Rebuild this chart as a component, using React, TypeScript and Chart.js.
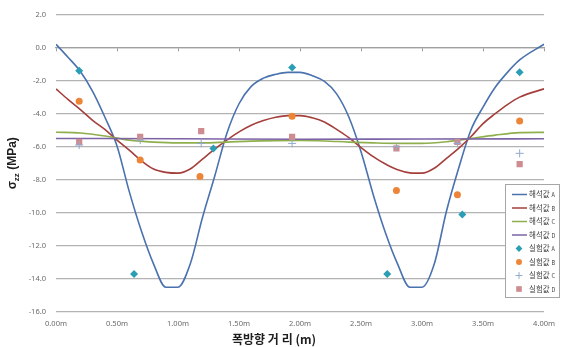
import React, { useEffect, useRef } from "react";
import { Chart, registerables } from "chart.js";

Chart.register(...registerables);

// ---- data ----
const curveDistance = [0.0, 0.1, 0.2, 0.3, 0.4, 0.5, 0.6, 0.7, 0.8, 0.9, 1.0, 1.1, 1.2, 1.3, 1.4, 1.5, 1.6, 1.7, 1.8, 1.9, 2.0, 2.1, 2.2, 2.3, 2.4, 2.5, 2.6, 2.7, 2.8, 2.9, 3.0, 3.1, 3.2, 3.3, 3.4, 3.5, 3.6, 3.7, 3.8, 4.0];
const analysisA = [0.2, -0.6, -1.45, -2.65, -4.2, -5.95, -8.7, -11.1, -13.1, -14.5, -14.5, -13.1, -10.3, -7.8, -5.2, -3.4, -2.35, -1.85, -1.62, -1.5, -1.5, -1.7, -2.05, -2.8, -4.2, -6.3, -8.9, -11.2, -13.1, -14.5, -14.5, -13.1, -9.9, -7.3, -5.0, -3.6, -2.4, -1.5, -0.75, 0.2];
const analysisB = [-2.5, -3.15, -3.75, -4.4, -4.95, -5.6, -6.2, -6.85, -7.35, -7.55, -7.6, -7.35, -6.75, -6.15, -5.6, -5.1, -4.7, -4.42, -4.22, -4.12, -4.12, -4.25, -4.5, -4.95, -5.45, -6.05, -6.6, -7.05, -7.4, -7.58, -7.6, -7.3, -6.7, -6.1, -5.4, -4.6, -4.0, -3.45, -3.0, -2.5];
const curveDistanceC = [0.0, 0.2, 0.4, 0.6, 0.8, 1.0, 1.2, 1.4, 1.6, 1.8, 2.0, 2.2, 2.4, 2.6, 2.8, 3.0, 3.2, 3.4, 3.6, 3.8, 4.0];
const analysisC = [-5.12, -5.17, -5.35, -5.6, -5.72, -5.77, -5.77, -5.72, -5.66, -5.63, -5.62, -5.65, -5.72, -5.77, -5.8, -5.8, -5.7, -5.5, -5.3, -5.15, -5.13];
const curveDistanceD = [0.0, 1.0, 2.0, 3.0, 4.0];
const analysisD = [-5.5, -5.52, -5.55, -5.53, -5.52];

const testDistanceA = [0.19, 0.64, 1.29, 1.935, 2.715, 3.33, 3.8];
const testA = [-1.4, -13.7, -6.1, -1.2, -13.7, -10.1, -1.5];
const testDistanceB = [0.19, 0.69, 1.18, 1.935, 2.79, 3.29, 3.8];
const testB = [-3.25, -6.8, -7.8, -4.15, -8.65, -8.9, -4.45];
const testDistanceCD = [0.19, 0.69, 1.19, 1.935, 2.79, 3.29, 3.8];
const testC = [-5.9, -5.6, -5.8, -5.8, -6.0, -5.8, -6.4];
const testD = [-5.7, -5.4, -5.05, -5.4, -6.1, -5.7, -7.05];

const seriesLabels = ["해석값 A", "해석값 B", "해석값 C", "해석값 D", "실험값 A", "실험값 B", "실험값 C", "실험값 D"];
const xTickValues = [0, 0.5, 1.0, 1.5, 2.0, 2.5, 3.0, 3.5, 4.0];
const yMin = -16;
const yMax = 2;
const xTitle = "폭방향 거 리 (m)";
const yTitleMain = "σ";
const yTitleSub = "zz";
const yTitleRest = " (MPa)";

const zip = (xs: number[], ys: number[]) => xs.map((x, i) => ({ x, y: ys[i] }));

const lineColors = ["#4a72ae", "#a43f3c", "#8fae4e", "#7b63a6"];
const markerColors = ["#2b9db5", "#ec8538", "#93a9cf", "#cf8c90"];
const markerStyles = ["rectRot", "circle", "cross", "rect"];
const markerRadius = [4, 3.5, 4, 4.4];

const FONT = '"Noto Sans CJK KR", "Noto Sans", sans-serif';

const titlePlugin = {
  id: "axisTitles",
  afterDraw(chart: any) {
    const { ctx, chartArea } = chart;
    ctx.save();
    ctx.fillStyle = "#1e1e1e";
    ctx.font = `bold 12px ${FONT}`;
    ctx.textAlign = "center";
    ctx.textBaseline = "middle";
    ctx.fillText(xTitle, (chartArea.left + chartArea.right) / 2 - 26, chart.height - 8);

    // y title, rotated
    ctx.translate(12, (chartArea.top + chartArea.bottom) / 2);
    ctx.rotate(-Math.PI / 2);
    const big = `bold 12px "Liberation Sans", sans-serif`;
    const small = `bold 8px "Liberation Sans", sans-serif`;
    ctx.font = big;
    const w1 = ctx.measureText(yTitleMain).width;
    const w3 = ctx.measureText(yTitleRest).width;
    ctx.font = small;
    const w2 = ctx.measureText(yTitleSub).width;
    const total = w1 + w2 + w3;
    let x = -total / 2;
    ctx.textAlign = "left";
    ctx.textBaseline = "alphabetic";
    ctx.font = big;
    ctx.fillText(yTitleMain, x, 4);
    x += w1;
    ctx.font = small;
    ctx.fillText(yTitleSub, x, 7);
    x += w2;
    ctx.font = big;
    ctx.fillText(yTitleRest, x, 4);
    ctx.restore();
  },
};

const legendPlugin = {
  id: "boxLegend",
  afterDraw(chart: any) {
    const { ctx } = chart;
    const left = 505;
    const top = 184;
    const w = 54;
    const h = 113;
    ctx.save();
    ctx.fillStyle = "#ffffff";
    ctx.fillRect(left, top, w, h);
    ctx.strokeStyle = "#a6a6a6";
    ctx.lineWidth = 1;
    ctx.strokeRect(left + 0.5, top + 0.5, w, h);
    chart.data.datasets.forEach((ds: any, i: number) => {
      const y = top + 10.5 + i * 13.5;
      const sx = left + 14;
      if (ds.showLine) {
        ctx.strokeStyle = ds.borderColor;
        ctx.lineWidth = 1.5;
        ctx.beginPath();
        ctx.moveTo(left + 7, y);
        ctx.lineTo(left + 22, y);
        ctx.stroke();
      } else {
        ctx.fillStyle = ds.backgroundColor;
        ctx.strokeStyle = ds.borderColor;
        ctx.lineWidth = 1;
        (Chart as any).helpers?.drawPoint
          ? null
          : null;
        drawMarker(ctx, ds.pointStyle, sx, y, ds.pointRadius * 0.85);
      }
      const parts = String(ds.label).split(" ");
      ctx.fillStyle = "#404040";
      ctx.textBaseline = "middle";
      ctx.textAlign = "left";
      ctx.font = `7.5px ${FONT}`;
      ctx.fillText(parts[0], left + 24, y);
      const pw = ctx.measureText(parts[0] + " ").width;
      ctx.font = `5.5px ${FONT}`;
      ctx.fillText(parts[1] || "", left + 24 + pw, y + 0.5);
    });
    ctx.restore();
  },
};

function drawMarker(ctx: CanvasRenderingContext2D, style: string, x: number, y: number, r: number) {
  ctx.beginPath();
  if (style === "rectRot") {
    ctx.moveTo(x, y - r);
    ctx.lineTo(x + r, y);
    ctx.lineTo(x, y + r);
    ctx.lineTo(x - r, y);
    ctx.closePath();
    ctx.fill();
  } else if (style === "circle") {
    ctx.arc(x, y, r, 0, Math.PI * 2);
    ctx.fill();
  } else if (style === "cross") {
    ctx.moveTo(x - r, y);
    ctx.lineTo(x + r, y);
    ctx.moveTo(x, y - r);
    ctx.lineTo(x, y + r);
    ctx.stroke();
  } else {
    const s = r * 0.75;
    ctx.fillRect(x - s, y - s, 2 * s, 2 * s);
  }
}

export default function App() {
  const ref = useRef<HTMLCanvasElement | null>(null);

  useEffect(() => {
    if (!ref.current) return;
    const curves = [
      zip(curveDistance, analysisA),
      zip(curveDistance, analysisB),
      zip(curveDistanceC, analysisC),
      zip(curveDistanceD, analysisD),
    ];
    const tests = [
      zip(testDistanceA, testA),
      zip(testDistanceB, testB),
      zip(testDistanceCD, testC),
      zip(testDistanceCD, testD),
    ];
    const datasets: any[] = [];
    curves.forEach((data, i) => {
      datasets.push({
        label: seriesLabels[i],
        data,
        showLine: true,
        borderColor: lineColors[i],
        backgroundColor: lineColors[i],
        borderWidth: 1.6,
        pointRadius: 0,
        cubicInterpolationMode: "monotone",
        order: 2 + (3 - i),
      });
    });
    tests.forEach((data, i) => {
      datasets.push({
        label: seriesLabels[4 + i],
        data,
        showLine: false,
        borderColor: markerColors[i],
        backgroundColor: markerColors[i],
        pointStyle: markerStyles[i],
        pointRadius: markerRadius[i],
        pointBorderWidth: markerStyles[i] === "cross" ? 1 : 0,
        order: 0,
      });
    });

    const tickFont = { family: '"Noto Sans", sans-serif', size: 7.5 };
    const chart = new Chart(ref.current, {
      type: "scatter",
      data: { datasets },
      options: {
        animation: false,
        responsive: false,
        layout: { padding: { top: 14, right: 10, left: 0, bottom: 0 } },
        plugins: { legend: { display: false }, tooltip: { enabled: false } },
        scales: {
          x: {
            type: "linear",
            position: "bottom",
            min: 0,
            max: 4,
            afterBuildTicks: (s: any) => {
              s.ticks = xTickValues.map((v) => ({ value: v }));
            },
            ticks: {
              font: tickFont,
              color: "#6a6a6a",
              padding: 7,
              maxRotation: 0,
              autoSkip: false,
              callback: (v: any) => Number(v).toFixed(2) + "m",
            },
            grid: { display: false, drawTicks: false },
            border: { display: false },
            afterFit: (s: any) => {
              s.height = 35;
            },
          },
          x2: {
            type: "linear",
            axis: "x",
            position: { y: 0 },
            min: 0,
            max: 4,
            afterBuildTicks: (s: any) => {
              s.ticks = xTickValues.map((v) => ({ value: v }));
            },
            ticks: { display: false },
            grid: { display: true, drawOnChartArea: false, drawTicks: true, tickLength: 3, color: "#9a9a9a", lineWidth: 1 },
            border: { display: true, color: "#a0a0a0", width: 1.3 },
          },
          y: {
            type: "linear",
            min: yMin,
            max: yMax,
            ticks: {
              stepSize: 2,
              font: tickFont,
              color: "#6a6a6a",
              padding: 10,
              callback: (v: any) => Number(v).toFixed(1),
            },
            grid: { color: "#b3b3b3", lineWidth: 1.3, drawTicks: false },
            border: { display: false },
            afterFit: (s: any) => {
              s.width = 56;
            },
          },
        },
      } as any,
      plugins: [titlePlugin, legendPlugin],
    });
    return () => chart.destroy();
  }, []);

  return (
    <div style={{ position: "fixed", left: 0, top: 0, width: 562, height: 347, background: "#fff" }}>
      <canvas ref={ref} width={562} height={347} style={{ display: "block" }} />
    </div>
  );
}
